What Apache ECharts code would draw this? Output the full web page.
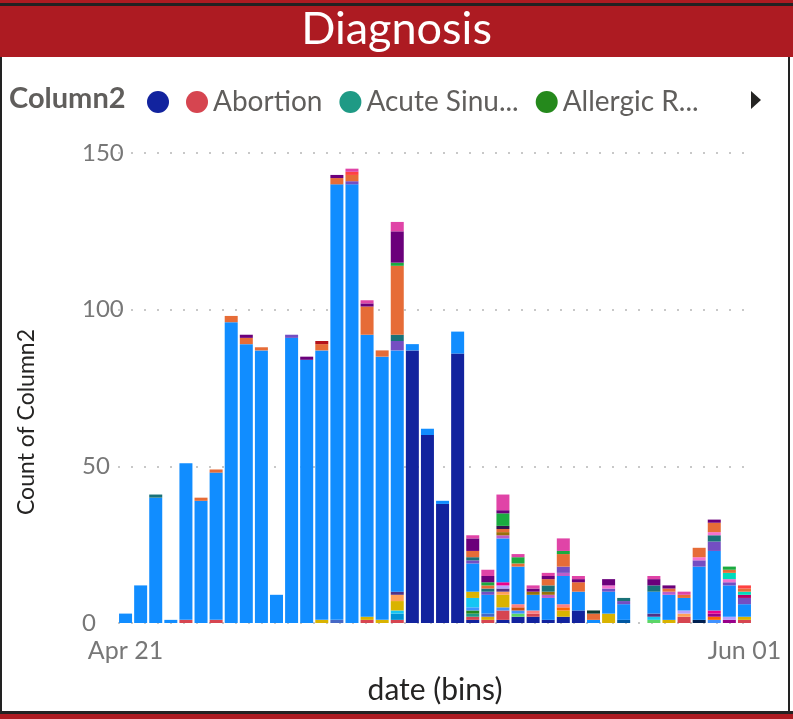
<!DOCTYPE html>
<html>
<head>
<meta charset="utf-8">
<title>Diagnosis</title>
<script src="https://cdn.jsdelivr.net/npm/echarts@6/dist/echarts.min.js"></script>
<style>
html, body { margin: 0; padding: 0; background: #fff; }
#chart { width: 793px; height: 719px; }
</style>
</head>
<body>
<div id="chart"></div>
<script>
// date bins, one per day
const dates = ['Apr 21','Apr 22','Apr 23','Apr 24','Apr 25','Apr 26','Apr 27','Apr 28','Apr 29','Apr 30',
  'May 01','May 02','May 03','May 04','May 05','May 06','May 07','May 08','May 09','May 10',
  'May 11','May 12','May 13','May 14','May 15','May 16','May 17','May 18','May 19','May 20',
  'May 21','May 22','May 23','May 24','May 25','May 26','May 27','May 28','May 29','May 30',
  'May 31','Jun 01'];
const yTicks = [0, 50, 100, 150];

// the big light blue diagnosis, one value per bin
const mainCounts = [3,12,40,1,50,39,47,96,89,87, 9,91,84,86,139,140,90,84,77,2,
  2,1,7,9,6,14,12,5,7,9, 6,1,7,5,0,7,8,4,17,19, 10,4];

// smaller diagnoses as [bin index, count]
const blankCounts = [[19,87],[20,60],[21,38],[22,86],[23,1],[25,1],[26,2],[27,2],[28,1],[29,2],[30,4]];
const abortion = [[4,1],[6,1],[16,1],[18,1],[23,1],[24,1],[25,3],[27,1],[37,2],[41,1]];
const acuteSinusitis = [[23,1]];
const allergicRhinitis = [[23,1]];
const other01 = [[26,1],[35,1]];
const other02 = [[23,1],[25,1],[26,1],[39,1]];
const other03 = [[18,2]];
const other04 = [[18,1],[23,3],[35,1]];
const other05 = [[13,1],[16,1],[17,1],[18,3],[23,2],[24,1],[25,4],[29,2],[32,3],[36,1],[41,1]];
const other06 = [[29,1],[39,1]];
const other07 = [[18,2],[25,1],[37,1]];
const other08 = [[26,1]];
const other09 = [[26,1],[27,1],[29,1]];
const other10 = [[39,1],[40,1]];
const other11 = [[18,1],[25,1],[35,1]];
const other12 = [[25,1],[37,1],[40,1]];
const other13 = [[25,1],[39,1]];
const other14 = [[14,1],[24,1]];
const other15 = [[33,1]];
const other16 = [[38,1]];
const other17 = [[25,1],[28,1],[29,1],[36,1]];
const other18 = [[11,1],[15,1],[18,3],[23,1],[24,1],[29,2],[32,1],[33,1],[38,2],[39,3],[40,1],[41,2]];
const other19 = [[41,1]];
const other20 = [[25,1],[27,1],[28,1]];
const other21 = [[2,1],[18,2],[23,1],[24,1],[28,2],[33,1],[35,2],[39,2]];
const other22 = [[32,1],[38,1],[39,1],[40,1]];
const other23 = [[40,2],[41,1]];
const other24 = [[5,1],[6,1],[7,2],[8,2],[9,1],[13,2],[14,2],[15,2],[16,9],[17,2],[18,22],[23,2],[24,1],
  [25,1],[26,1],[28,2],[29,4],[30,3],[31,2],[36,1],[37,1],[38,3],[39,3],[40,1],[41,1]];
const other25 = [[31,1]];
const other26 = [[25,1]];
const other27 = [[18,1],[24,1],[25,4],[26,2],[29,1],[40,1]];
const other28 = [[8,1],[12,1],[14,1],[16,1],[18,10],[23,4],[24,2],[25,1],[27,1],[28,1],[30,1],[32,2],[35,2],[36,1],[39,1]];
const other29 = [[15,1],[41,1]];
const other30 = [[13,1]];
const other31 = [[15,1],[16,1],[18,3],[23,1],[24,2],[25,5],[26,1],[27,1],[28,1],[29,4],[30,1],[35,1],[37,1]];

function dense(pairs) {
  const out = dates.map(() => 0);
  pairs.forEach(p => { out[p[0]] = p[1]; });
  return out;
}

// stacking order, bottom to top
const stack = [
  ['(Blank)', '#12239E', dense(blankCounts)],
  ['Abortion', '#D64550', dense(abortion)],
  ['Acute Sinusitis', '#1F9A85', dense(acuteSinusitis)],
  ['Allergic Rhinitis', '#25891C', dense(allergicRhinitis)],
  ['Other 01', '#5BD667', dense(other01)],
  ['Other 02', '#4092FF', dense(other02)],
  ['Other 03', '#0091D5', dense(other03)],
  ['Other 04', '#15C6F4', dense(other04)],
  ['Other 05', '#D9B300', dense(other05)],
  ['Other 06', '#FF6300', dense(other06)],
  ['Other 07', '#FFA058', dense(other07)],
  ['Other 08', '#C94F0F', dense(other08)],
  ['Other 09', '#FF8080', dense(other09)],
  ['Other 10', '#99008A', dense(other10)],
  ['Other 11', '#533285', dense(other11)],
  ['Other 12', '#B5A1FF', dense(other12)],
  ['Other 13', '#EC008C', dense(other13)],
  ['Other 14', '#4668C5', dense(other14)],
  ['Other 15', '#0057A2', dense(other15)],
  ['Other 16', '#002050', dense(other16)],
  ['Other', '#118DFF', mainCounts],
  ['Other 17', '#BE5DC9', dense(other17)],
  ['Other 18', '#744EC2', dense(other18)],
  ['Other 19', '#B60064', dense(other19)],
  ['Other 20', '#99700A', dense(other20)],
  ['Other 21', '#197278', dense(other21)],
  ['Other 22', '#F472D0', dense(other22)],
  ['Other 23', '#00DBBC', dense(other23)],
  ['Other 24', '#E66C37', dense(other24)],
  ['Other 25', '#0E3D33', dense(other25)],
  ['Other 26', '#34124F', dense(other26)],
  ['Other 27', '#1AAB40', dense(other27)],
  ['Other 28', '#6B007B', dense(other28)],
  ['Other 29', '#FF4141', dense(other29)],
  ['Other 30', '#B5121B', dense(other30)],
  ['Other 31', '#E044A7', dense(other31)]
];

const legendShort = {
  '(Blank)': '',
  'Abortion': 'Abortion',
  'Acute Sinusitis': 'Acute Sinu...',
  'Allergic Rhinitis': 'Allergic R...'
};

const font = "Lato, 'Noto Sans', sans-serif";
const red = '#AD1B22';

var chart = echarts.init(document.getElementById('chart'));
var option = {
  animation: false,
  textStyle: { fontFamily: font },
  grid: { left: 118, right: 41, top: 153, bottom: 96 },
  legend: {
    data: ['(Blank)', 'Abortion', 'Acute Sinusitis', 'Allergic Rhinitis'],
    left: 142,
    top: 83,
    icon: 'circle',
    itemWidth: 22,
    itemHeight: 22,
    itemGap: 17,
    selectedMode: false,
    formatter: function (name) { return legendShort[name]; },
    textStyle: { fontFamily: font, fontSize: 28, color: '#605E5C' }
  },
  xAxis: {
    type: 'category',
    data: dates,
    axisLine: { show: false },
    axisTick: { show: false },
    axisLabel: {
      interval: function (index) { return index === 0 || index === dates.length - 1; },
      color: '#777',
      fontSize: 25,
      margin: 15
    },
    name: 'date (bins)',
    nameLocation: 'middle',
    nameGap: 52,
    nameTextStyle: { color: '#252423', fontSize: 30 }
  },
  yAxis: {
    type: 'value',
    min: yTicks[0],
    max: yTicks[yTicks.length - 1],
    interval: yTicks[1] - yTicks[0],
    axisLabel: { color: '#777', fontSize: 24, margin: 36, align: 'left' },
    splitLine: { lineStyle: { color: '#C8C8C8', width: 2, type: [2, 11] } }
  },
  series: stack.map(function (s) {
    return {
      name: s[0],
      type: 'bar',
      stack: 'total',
      barWidth: 13,
      itemStyle: { color: s[1] },
      emphasis: { disabled: true },
      data: s[2]
    };
  }),
  graphic: [
    { type: 'rect', shape: { x: 0, y: 0, width: 793, height: 3 }, style: { fill: red } },
    { type: 'rect', shape: { x: 0, y: 3, width: 793, height: 3 }, style: { fill: '#222' } },
    { type: 'rect', shape: { x: 0, y: 6, width: 793, height: 51 }, style: { fill: red } },
    { type: 'rect', shape: { x: 0, y: 57, width: 2, height: 656 }, style: { fill: '#222' } },
    { type: 'rect', shape: { x: 788, y: 57, width: 2, height: 656 }, style: { fill: '#222' } },
    { type: 'rect', shape: { x: 0, y: 711, width: 793, height: 3 }, style: { fill: '#222' } },
    { type: 'rect', shape: { x: 0, y: 714, width: 793, height: 5 }, style: { fill: red } },
    {
      type: 'text', left: 'center', top: 7,
      style: { text: 'Diagnosis', fill: '#fff', font: '45px ' + font }
    },
    {
      type: 'text', left: 9, top: 84,
      style: { text: 'Column2', fill: '#605E5C', font: 'bold 29px ' + font }
    },
    {
      type: 'text', x: 27, y: 422, rotation: Math.PI / 2,
      style: {
        text: 'Count of Column2', fill: '#252423', font: '23px ' + font,
        align: 'center', verticalAlign: 'middle'
      }
    },
    {
      type: 'polygon', shape: { points: [[751, 91], [761, 100], [751, 109]] },
      style: { fill: '#252423' }
    }
  ]
};
chart.setOption(option, true);
</script>
</body>
</html>
